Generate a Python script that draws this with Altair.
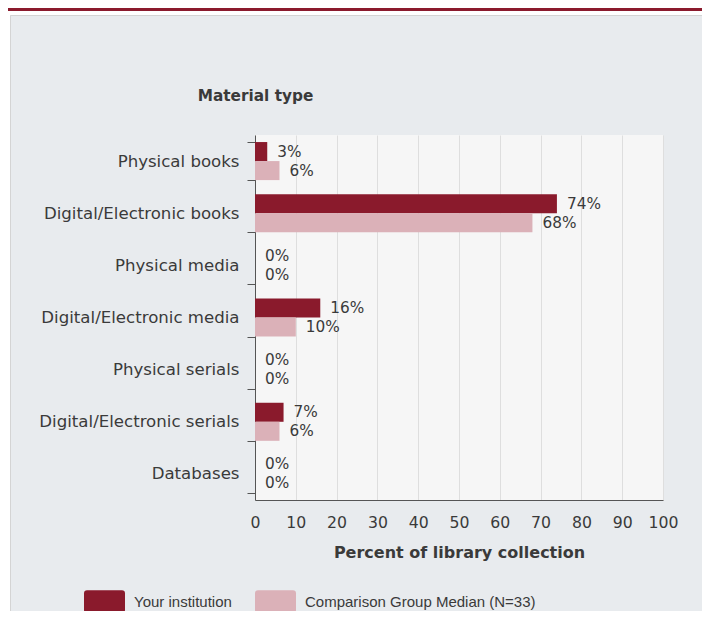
import altair as alt
import pandas as pd

categories = [
    "Physical books",
    "Digital/Electronic books",
    "Physical media",
    "Digital/Electronic media",
    "Physical serials",
    "Digital/Electronic serials",
    "Databases",
]
series_names = ["Your institution", "Comparison Group Median (N=33)"]
your_institution = [3, 74, 0, 16, 0, 7, 0]
comparison_median = [6, 68, 0, 10, 0, 6, 0]
x_ticks = [0, 10, 20, 30, 40, 50, 60, 70, 80, 90, 100]
colors = ["#8a1a2c", "#dbb1b8"]

rows = []
for cat, a, b in zip(categories, your_institution, comparison_median):
    rows.append({"cat": cat, "series": series_names[0], "value": a, "label": f"{a}%"})
    rows.append({"cat": cat, "series": series_names[1], "value": b, "label": f"{b}%"})
df = pd.DataFrame(rows)

W, H = 408, 365
PL, PT, PR, PB = 247, 127, 39, 111
FONT = "DejaVu Sans"

y_enc = alt.Y(
    "cat:N",
    sort=categories,
    scale=alt.Scale(paddingInner=0.27, paddingOuter=0.135),
    axis=alt.Axis(
        title="Material type",
        titleAngle=0,
        titleX=0,
        titleY=-40,
        titleAlign="center",
        titleBaseline="middle",
        titleFont=FONT,
        titleFontSize=15.3,
        titleFontWeight="bold",
        titleColor="#3a3a3a",
        labelFont=FONT,
        labelFontSize=16.6,
        labelColor="#3a3a3a",
        labelPadding=8,
        labelLimit=400,
        tickBand="extent",
        tickSize=8,
        tickColor="#555555",
        domainColor="#555555",
        grid=False,
    ),
)
x_enc = alt.X(
    "value:Q",
    scale=alt.Scale(domain=[0, 100], nice=False),
    axis=alt.Axis(
        values=x_ticks,
        title="Percent of library collection",
        titleFont=FONT,
        titleFontSize=16,
        titleFontWeight="bold",
        titleColor="#3a3a3a",
        titlePadding=15,
        labelFont=FONT,
        labelFontSize=15.7,
        labelColor="#3a3a3a",
        labelPadding=15,
        labelFlush=False,
        labelOverlap=False,
        ticks=False,
        tickSize=0,
        domainColor="#555555",
        grid=True,
        gridColor="#dedede",
    ),
)

rounded = ("M-0.85,-0.55 H0.85 Q1,-0.55 1,-0.4 V0.4 Q1,0.55 0.85,0.55 "
           "H-0.85 Q-1,0.55 -1,0.4 V-0.4 Q-1,-0.55 -0.85,-0.55 Z")

bars = alt.Chart(df).mark_bar().encode(
    y=y_enc,
    yOffset=alt.YOffset("series:N", sort=series_names, scale=alt.Scale(paddingInner=0)),
    x=x_enc,
    color=alt.Color(
        "series:N",
        sort=series_names,
        scale=alt.Scale(domain=series_names, range=colors),
        legend=alt.Legend(
            title=None,
            orient="none",
            legendX=-171,
            legendY=446,
            direction="horizontal",
            symbolType=rounded,
            symbolSize=1681,
            symbolStrokeWidth=0,
            symbolOpacity=1,
            labelFont="Liberation Sans",
            labelFontSize=15,
            labelColor="#3a3a3a",
            labelOffset=9,
            labelLimit=400,
            columnPadding=23,
            padding=0,
        ),
    ),
)

labels = alt.Chart(df).mark_text(
    align="left", baseline="middle", dx=10, font=FONT, fontSize=15.3, color="#3a3a3a"
).encode(
    y=alt.Y("cat:N", sort=categories),
    yOffset=alt.YOffset("series:N", sort=series_names),
    x=alt.X("value:Q"),
    text="label:N",
)

one = alt.Data(values=[{}])
white_top = alt.Chart(one).mark_rect(color="white").encode(
    x=alt.value(-PL), x2=alt.value(W + PR), y=alt.value(-PT), y2=alt.value(-PT + 7)
)
white_left = alt.Chart(one).mark_rect(color="white").encode(
    x=alt.value(-PL), x2=alt.value(-PL + 2), y=alt.value(-PT), y2=alt.value(H + PB)
)
red_bar = alt.Chart(one).mark_rect(color="#8b1a2d").encode(
    x=alt.value(-PL), x2=alt.value(W + PR), y=alt.value(-PT), y2=alt.value(-PT + 3)
)
panel_border = alt.Chart(one).mark_rect(fill="transparent", stroke="#d4d4d4", strokeWidth=1).encode(
    x=alt.value(-PL + 2.5), x2=alt.value(W + PR + 10), y=alt.value(-PT + 7.5), y2=alt.value(H + PB + 10)
)

chart = alt.layer(white_top, white_left, red_bar, panel_border, bars, labels).properties(
    width=W,
    height=H,
    autosize=alt.AutoSizeParams(type="none"),
    padding={"left": PL, "top": PT, "right": PR, "bottom": PB},
    background="#e8ebee",
).configure_view(fill="#f6f6f6", stroke=None)

chart.save("out.html", embed_options={"renderer": "svg", "actions": False})
